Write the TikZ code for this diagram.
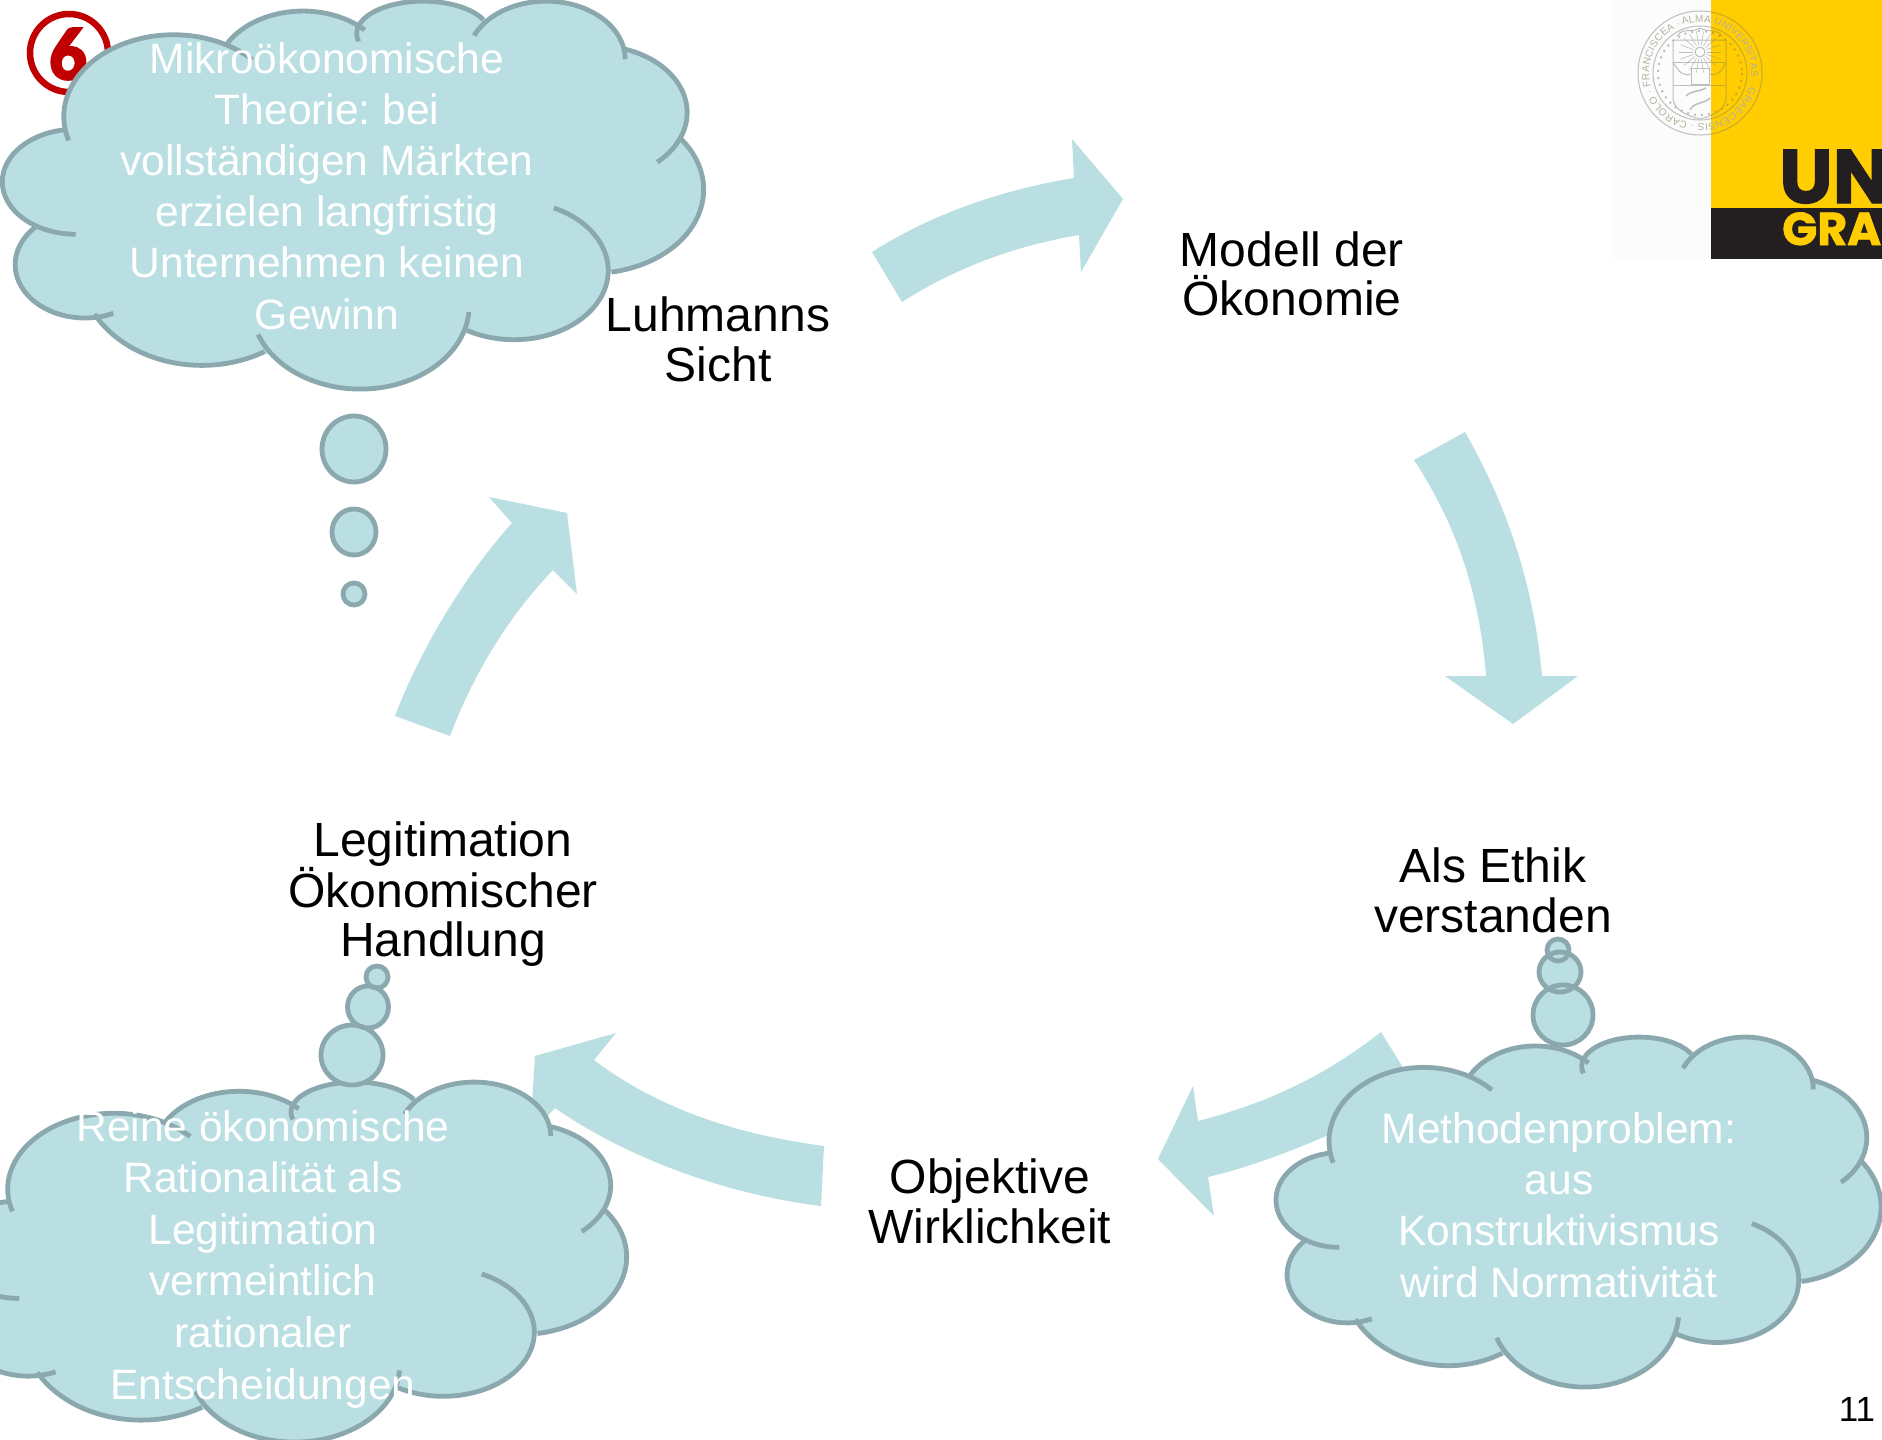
\documentclass[tikz,border=0pt]{standalone}
\usepackage{fontspec}
\setmainfont{Liberation Sans}
\newfontfamily\badgefont[BoldFeatures={FakeBold=3.5}]{Carlito}
\newfontfamily\logofont[BoldFeatures={FakeBold=1.5}]{Poppins}
\usetikzlibrary{decorations.text}
\definecolor{cloudcol}{HTML}{B9DFE3}
\definecolor{edgecol}{HTML}{8AA8AD}
\definecolor{badgecol}{HTML}{C00000}
\definecolor{logoyellow}{HTML}{FFCD00}
\definecolor{logoblack}{HTML}{231F20}
\definecolor{sealgrey}{HTML}{BEBEBE}
\definecolor{sealolive}{HTML}{C9A92A}
\definecolor{sealtext}{HTML}{B4B09C}
\frenchspacing
\tikzset{
  lobefillstyle/.style={fill=cloudcol,draw=cloudcol,line width=1.5pt},
  lobelinestyle/.style={draw=edgecol,line width=4.8pt},
  flowarrow/.style={fill=cloudcol,draw=none},
  bubblefill/.style={fill=cloudcol,draw=none},
  bubbleline/.style={draw=edgecol,line width=4.8pt},
  blacklabel/.style={align=center,inner sep=0pt,text=black,font=\fontsize{48}{49.5}\selectfont},
  cloudlabel/.style={align=center,inner sep=0pt,text=white,font=\fontsize{42.5}{51.2}\selectfont},
  sealline/.style={draw=sealcol,line width=1pt}
}
% centre x, centre y, x radius, y radius, start and end angle
\newcommand\lobefillpass[6]{\path[lobefillstyle] ([shift={(#1,#2)}]#5:#3 and #4) arc[start angle=#5,end angle=#6,x radius=#3,y radius=#4] -- cycle;}
\newcommand\lobelinepass[6]{\path[lobelinestyle] ([shift={(#1,#2)}]#5:#3 and #4) arc[start angle=#5,end angle=#6,x radius=#3,y radius=#4];}
\newcommand\cloudlobes{%
  \cloudlobe{378}{295}{239}{207}{163}{316}%
  \cloudlobe{660}{191}{190}{163}{210}{315}%
  \cloudlobe{922}{85}{145}{82}{166}{335}%
  \cloudlobe{1190}{150}{172}{147}{204}{360}%
  \cloudlobe{1300}{285}{197}{169}{288}{408}%
  \cloudlobe{1290}{480}{243}{212}{-38}{80}%
  \cloudlobe{1120}{685}{205}{175}{-65}{120}%
  \cloudlobe{785}{775}{237}{210}{4}{160}%
  \cloudlobe{440}{680}{265}{245}{59}{152}%
  \cloudlobe{185}{670}{152}{135}{66}{225}%
  \cloudlobe{165}{460}{160}{133}{90}{263}%
}
\newcommand\fullcloud{%
  \let\cloudlobe\lobefillpass
  \cloudlobes
  \path[lobefillstyle] (140,330)--(495,110)--(795,75)--(1058,50)--(1362,125)--(1485,348)--(1330,685)--(1015,840)--(585,895)--(205,795)--(78,575)--cycle;
  \let\cloudlobe\lobelinepass
  \cloudlobes
}
\newcommand\sealdrawing{%
  \draw[sealline] (1700,73) circle (62);
  \draw[sealline] (1700,73) circle (47);
  \draw[sealcol,line width=2pt,dash pattern=on 2pt off 5pt] (1700,73) circle (42);
  \draw[sealline] (1673,40) -- (1726,40) -- (1726,98) .. controls (1726,110) and (1712,116) .. (1700,119) .. controls (1688,116) and (1673,110) .. (1673,98) -- cycle;
  \draw[sealline] (1673,62) -- (1726,62) (1673,85) -- (1726,85);
  \draw[sealline] (1700,52) circle (5);
  \foreach \a in {0,20,...,340} \draw[sealcol,line width=.6pt] (1700,52) ++(\a:7) -- ++(\a:14);
  \draw[sealline] (1691,68) rectangle (1709,84);
  \draw[sealline] (1673,62) .. controls (1680,75) and (1686,76) .. (1691,74);
  \draw[sealline] (1726,62) .. controls (1720,75) and (1714,76) .. (1709,74);
  \draw[sealcol,line width=1.5pt] (1686,96) .. controls (1692,90) and (1700,92) .. (1706,88) (1690,110) .. controls (1694,102) and (1704,104) .. (1710,98);
  \draw[sealline] (1677,36) .. controls (1685,26) and (1690,34) .. (1700,28) .. controls (1708,33) and (1716,28) .. (1722,36);
}
\begin{document}
\begin{tikzpicture}[x=1pt,y=-1pt]
\useasboundingbox (0,0) rectangle (1882,1440);
\clip (0,0) rectangle (1882,1440);
\fill[white] (0,0) rectangle (1882,1440);

% logo
\fill[black!1] (1612,0) rectangle (1711,259);
\fill[logoyellow] (1711,0) rectangle (1882,208);
\fill[logoblack] (1711,208) rectangle (1882,259);
\node[anchor=base west,inner sep=0pt,text=logoblack,font=\logofont\bfseries\fontsize{76}{76}\selectfont] (logoun) at (1779,203) {UN};
\node[anchor=base west,inner sep=0pt,text=logoyellow,font=\logofont\bfseries\fontsize{46}{46}\selectfont] (logogra) at (1782,245) {GRA};
% seal: grey on white, darker where it lies on the yellow
\colorlet{sealcol}{sealgrey}
\begin{scope}
  \clip (1600,0) rectangle (1711,200);
  \sealdrawing
\end{scope}
\colorlet{sealcol}{sealolive}
\begin{scope}
  \clip (1711,0) rectangle (1800,200);
  \sealdrawing
\end{scope}
\path[decorate,decoration={text along path,text align=fit to path,
  text={|\fontsize{10}{10}\selectfont\color{sealtext}|ALMA UNIVERSITAS · GRAECENSIS · CAROLO · FRANCISCEA ·}}]
  ([shift={(1700,73)}]250:51) arc[start angle=250,end angle=608,radius=51];

% badge
\draw[badgecol,line width=6.5pt] (69,53) ellipse (39 and 39);
\node[inner sep=0pt,text=badgecol,font=\badgefont\bfseries\fontsize{74}{74}\selectfont] (badge) at (68,54) {6};

% flow arrows
\path[flowarrow] (872,252) -- (902,302) .. controls (960,265) and (1020,245) .. (1079,235) -- (1081,272) -- (1123,199) -- (1072,139) -- (1074,178) .. controls (1000,190) and (930,215) .. (872,252) -- cycle;
\path[flowarrow] (1414,460) -- (1465,432) .. controls (1515,520) and (1535,600) .. (1542,676) -- (1578,676) -- (1513,724) -- (1445,676) -- (1486,676) .. controls (1480,600) and (1460,530) .. (1414,460) -- cycle;
\path[flowarrow] (1381,1032) .. controls (1320,1080) and (1260,1105) .. (1198,1121) -- (1193,1086) -- (1158,1159) -- (1214,1216) -- (1208,1177) .. controls (1280,1160) and (1350,1125) .. (1420,1095) -- cycle;
\path[flowarrow] (824,1146) .. controls (740,1135) and (660,1110) .. (594,1060) -- (616,1033) -- (535,1056) -- (530,1135) -- (555,1108) .. controls (630,1160) and (730,1195) .. (821,1206) -- cycle;
\path[flowarrow] (395,716) -- (450,736) .. controls (475,670) and (510,615) .. (553,570) -- (577,594) -- (567,513) -- (489,497) -- (512,523) .. controls (465,575) and (420,650) .. (395,716) -- cycle;

% clouds
\begin{scope}[shift={(0,0)},x=.459pt,y=-.395pt]\fullcloud\end{scope}
\begin{scope}[shift={(-54,1081)},x=.444pt,y=-.3666pt]\fullcloud\end{scope}
\begin{scope}[shift={(1274,1036)},x=.396pt,y=-.3564pt]\fullcloud\end{scope}

% thought bubbles
\path[bubblefill] (354,449) ellipse (32 and 33);
\path[bubbleline] (354,449) ellipse (32 and 33);
\path[bubblefill] (354,532) ellipse (22 and 23);
\path[bubbleline] (354,532) ellipse (22 and 23);
\path[bubblefill] (354,594) ellipse (11 and 11);
\path[bubbleline] (354,594) ellipse (11 and 11);

\path[bubblefill] (377,977) ellipse (11 and 11) (368,1007) ellipse (20.5 and 21) (352,1055) ellipse (31 and 30);
\path[bubbleline] (377,977) ellipse (11 and 11) (368,1007) ellipse (20.5 and 21) (352,1055) ellipse (31 and 30);

\path[bubblefill] (1558,950) ellipse (11 and 11) (1560,972) ellipse (21 and 20) (1563,1015) ellipse (30 and 30);
\path[bubbleline] (1558,950) ellipse (11 and 11) (1560,972) ellipse (21 and 20) (1563,1015) ellipse (30 and 30);

% labels
\node[blacklabel] (luhmann) at (718,339.5) {Luhmanns\\Sicht};
\node[blacklabel] (modell) at (1292,274) {Modell der\\Ökonomie};
\node[blacklabel] (ethik) at (1493,890.5) {Als Ethik\\verstanden};
\node[blacklabel] (objektiv) at (990,1201.5) {Objektive\\Wirklichkeit};
\node[blacklabel] (legit) at (443,894) {Legitimation\\Ökonomischer\\Handlung};
\node[cloudlabel] (cloudA) at (327,186) {Mikroökonomische\\Theorie: bei\\vollständigen Märkten\\erzielen langfristig\\Unternehmen keinen\\Gewinn};
\node[cloudlabel,font=\fontsize{42.5}{51.6}\selectfont] (cloudB) at (263,1259) {Reine ökonomische\\Rationalität als\\Legitimation\\vermeintlich\\rationaler\\Entscheidungen};
\node[cloudlabel] (cloudC) at (1559,1205) {Methodenproblem:\\aus\\Konstruktivismus\\wird Normativität};
\node[inner sep=0pt,text=black,font=\fontsize{35}{35}\selectfont] (pagenum) at (1857,1409) {11};
\end{tikzpicture}
\end{document}
